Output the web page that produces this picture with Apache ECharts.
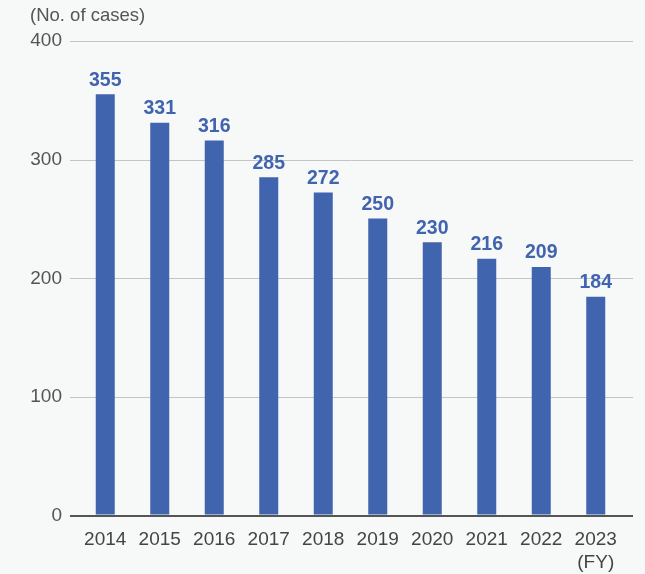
<!DOCTYPE html>
<html><head><meta charset="utf-8">
<script src="https://cdn.jsdelivr.net/npm/echarts@6/dist/echarts.min.js"></script>
<style>html,body{margin:0;padding:0;background:#f7f8f8}#c{width:645px;height:574px}</style>
</head><body><div id="c"></div>
<script>
const categories = ['2014','2015','2016','2017','2018','2019','2020','2021','2022','2023'];
const cases = [355, 331, 316, 285, 272, 250, 230, 216, 209, 184];
const yTicks = [0, 100, 200, 300, 400];
const unitLabel = '(No. of cases)';
const fyLabel = '(FY)';

const font = '"Liberation Sans", Arial, Helvetica, sans-serif';
const chart = echarts.init(document.getElementById('c'));
chart.setOption({
  backgroundColor: '#f7f8f8',
  animation: false,
  textStyle: { fontFamily: font },
  graphic: [{ type: 'text', left: 30, top: 6, style: { text: unitLabel, fontSize: 18.5, fill: '#555', fontFamily: font } }],
  grid: [
    { left: 70, right: 12, top: 41, bottom: 58 },
    { left: 78, right: 22, top: 41, bottom: 58 }
  ],
  xAxis: [
    { type: 'category', gridIndex: 0, data: categories, show: false },
    {
      type: 'category', gridIndex: 1, data: categories,
      axisLine: { show: false }, axisTick: { show: false },
      axisLabel: {
        interval: 0, hideOverlap: false,
        color: '#444', fontSize: 19, margin: 13.5, lineHeight: 23, fontFamily: font,
        formatter: (v, i) => i === categories.length - 1 ? v + '\n' + fyLabel : v
      }
    }
  ],
  yAxis: [
    {
      type: 'value', gridIndex: 0, min: yTicks[0], max: yTicks[yTicks.length - 1], interval: 100,
      axisLine: { show: false }, axisTick: { show: false },
      axisLabel: { color: '#555', fontSize: 19, margin: 8, fontFamily: font },
      splitLine: { lineStyle: { color: '#c4c4c4', width: 1 } }
    },
    { type: 'value', gridIndex: 1, min: 0, max: 400, interval: 100, show: false, splitLine: { show: false } }
  ],
  series: [
    {
      type: 'line', xAxisIndex: 0, yAxisIndex: 0, data: categories.map(() => 0), symbol: 'none',
      lineStyle: { color: 'transparent' }, silent: true,
      markLine: { silent: true, symbol: 'none', label: { show: false },
        lineStyle: { color: '#555', width: 2, type: 'solid' }, data: [{ yAxis: 0 }] }
    },
    {
      type: 'bar', xAxisIndex: 1, yAxisIndex: 1, data: cases, barWidth: 19,
      itemStyle: { color: '#4164ae' },
      label: { show: true, position: 'top', distance: 4, color: '#4164ae', fontSize: 19.5, fontWeight: 'bold', fontFamily: font }
    }
  ]
});
</script></body></html>
